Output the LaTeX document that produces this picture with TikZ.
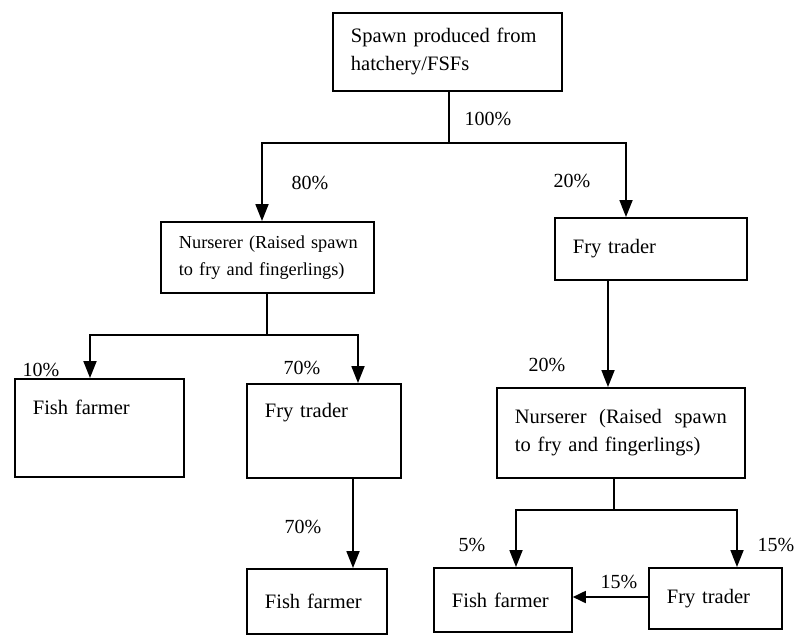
\documentclass[tikz,border=0pt]{standalone}
\usepackage{fontspec}
\setmainfont{Liberation Serif}
\usetikzlibrary{arrows.meta}
\begin{document}
\begin{tikzpicture}[x=1pt,y=-1pt,
  box/.style={draw, line width=1.8pt, anchor=north west, inner xsep=18pt, inner ysep=0pt,
    align=left, font=\fontsize{20.5}{28}\selectfont},
  pct/.style={font=\fontsize{20}{24}\selectfont, inner sep=0pt},
  link/.style={line width=1.8pt},
  arr/.style={line width=1.8pt, -{Triangle[width=13pt,length=17pt]}},
  sarr/.style={line width=1.8pt, -{Triangle[width=12pt,length=13pt]}}]
\useasboundingbox (0,0) rectangle (798,635);

% boxes
\node[box, text width=193pt, minimum height=78pt] (top) at (332,12)
  {\mbox{Spawn produced from}\\hatchery/FSFs};
\node[box, text width=177pt, minimum height=71pt, font=\fontsize{18.3}{27}\selectfont] (nl) at (160,221)
  {\mbox{Nurserer (Raised spawn}\\\mbox{to fry and fingerlings)}};
\node[box, text width=156pt, minimum height=62pt] (frR) at (554,217) {Fry trader};
\node[box, text width=133pt, text height=36pt, text depth=62pt] (ffL) at (14,378) {Fish farmer};
\node[box, text width=118pt, text height=34pt, text depth=60pt] (frM) at (246,383) {Fry trader};
\node[box, text width=104pt, minimum height=65pt] (ffM) at (246,568) {Fish farmer};
\node[box, text width=212pt, minimum height=90pt] (nR) at (496,387)
  {\makebox[212pt][l]{Nurserer\hfill(Raised\hfill spawn}\\\mbox{to fry and fingerlings)}};
\node[box, text width=102pt, minimum height=64pt] (ffB) at (433,567) {Fish farmer};
\node[box, text width=97pt, minimum height=61pt] (frB) at (648,567) {Fry trader};

% junction coordinates
\coordinate (j1) at (449,143);
\coordinate (j1l) at (262,143);
\coordinate (j1r) at (626,143);
\coordinate (j2) at (267,335);
\coordinate (j2l) at (90,335);
\coordinate (j2r) at (358,335);
\coordinate (xm) at (353,520);
\coordinate (xr) at (608,330);
\coordinate (j4) at (614,510);
\coordinate (j4l) at (516,510);
\coordinate (j4r) at (737,510);
\coordinate (yb) at (610,597);

% connectors
\draw[link] (j1 |- top.south) -- (j1);
\draw[arr] (j1) -| (j1l |- nl.north);
\draw[arr] (j1) -| (j1r |- frR.north);

\draw[link] (j2 |- nl.south) -- (j2);
\draw[arr] (j2) -| (j2l |- ffL.north);
\draw[arr] (j2) -| (j2r |- frM.north);
\draw[arr] (xm |- frM.south) -- (xm |- ffM.north);

\draw[arr] (xr |- frR.south) -- (xr |- nR.north);
\draw[link] (j4 |- nR.south) -- (j4);
\draw[arr] (j4) -| (j4l |- ffB.north);
\draw[arr] (j4) -| (j4r |- frB.north);
\draw[sarr] (frB.west |- yb) -- (ffB.east |- yb);

% percentages
\node[pct] (p100) at (488,119) {100\%};
\node[pct] (p80) at (310,183) {80\%};
\node[pct] (p20a) at (572,181) {20\%};
\node[pct] (p10) at (41,370) {10\%};
\node[pct] (p70a) at (302,368) {70\%};
\node[pct] (p70b) at (303,527) {70\%};
\node[pct] (p20b) at (547,365) {20\%};
\node[pct] (p5) at (472,545) {5\%};
\node[pct] (p15a) at (776,545) {15\%};
\node[pct] (p15b) at (619,582) {15\%};
\end{tikzpicture}
\end{document}
